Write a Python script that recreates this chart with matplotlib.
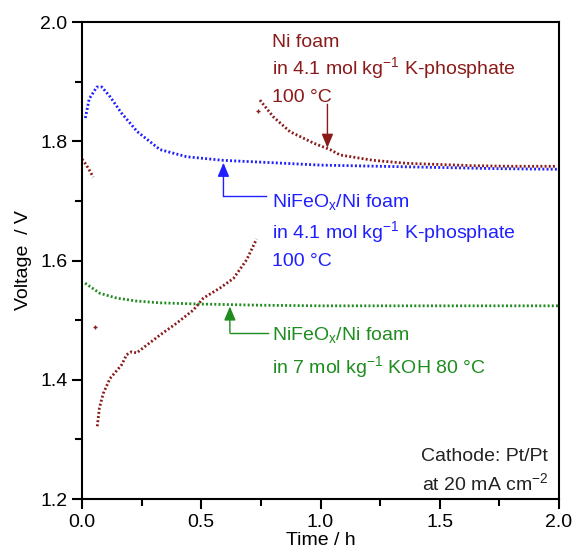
import matplotlib
matplotlib.use("Agg")
import matplotlib.pyplot as plt
from matplotlib.ticker import MultipleLocator

plt.rcParams['font.family'] = ['Liberation Sans', 'DejaVu Sans']
plt.rcParams['mathtext.fontset'] = 'custom'
plt.rcParams['mathtext.rm'] = 'Liberation Sans'
plt.rcParams['mathtext.it'] = 'Liberation Sans:italic'
plt.rcParams['font.size'] = 14

RED = '#8b1a1a'
BLUE = '#1f1fff'
GREEN = '#1f8c1f'

# NiFeOx/Ni foam in 4.1 mol/kg K-phosphate, 100 C
t_blue = [0.014, 0.03, 0.062, 0.083, 0.117, 0.166, 0.232, 0.327, 0.439, 0.591,
          0.8, 0.998, 1.25, 1.5, 1.75, 2.0]
v_blue = [1.839, 1.871, 1.891, 1.891, 1.875, 1.847, 1.816, 1.786, 1.774, 1.768,
          1.764, 1.760, 1.758, 1.756, 1.754, 1.753]

# Ni foam in 4.1 mol/kg K-phosphate, 100 C (three pieces)
t_red_a = [0.0, 0.015, 0.03, 0.047]
v_red_a = [1.770, 1.762, 1.752, 1.740]
t_red_b = [0.064, 0.073, 0.089, 0.117, 0.166, 0.187, 0.208, 0.229, 0.271, 0.327,
           0.397, 0.467, 0.509, 0.579, 0.635, 0.690, 0.732]
v_red_b = [1.322, 1.353, 1.377, 1.402, 1.425, 1.442, 1.447, 1.445, 1.458, 1.475,
           1.495, 1.517, 1.537, 1.554, 1.570, 1.601, 1.636]
t_red_c = [0.746, 0.802, 0.872, 0.914, 0.970, 1.040, 1.082, 1.221, 1.361, 1.5,
           1.641, 1.8, 1.99]
v_red_c = [1.869, 1.841, 1.816, 1.808, 1.797, 1.786, 1.777, 1.768, 1.763, 1.761,
           1.759, 1.758, 1.758]
t_red_pts = [0.055, 0.738]
v_red_pts = [1.489, 1.850]

# NiFeOx/Ni foam in 7 mol/kg KOH, 80 C
t_green = [0.013, 0.075, 0.145, 0.229, 0.327, 0.495, 0.75, 0.998, 1.5, 2.0]
v_green = [1.562, 1.545, 1.537, 1.532, 1.529, 1.527, 1.525, 1.524, 1.524, 1.524]

fig = plt.figure(figsize=(5.76, 5.57), dpi=100)
ax = fig.add_axes([0.1424, 0.1041, 0.8281, 0.8564])

kw = dict(linestyle=(0, (0.7, 0.8)), linewidth=2.0)
ax.plot(t_blue, v_blue, color=BLUE, **kw)
ax.plot(t_green, v_green, color=GREEN, **kw)
ax.plot(t_red_a, v_red_a, color=RED, **kw)
ax.plot(t_red_b, v_red_b, color=RED, **kw)
ax.plot(t_red_c, v_red_c, color=RED, **kw)
ax.plot(t_red_pts, v_red_pts, color=RED, linestyle='none', marker='+',
        markersize=3, markeredgewidth=1)

ax.set_xlim(0, 2)
ax.set_ylim(1.2, 2.0)
ax.xaxis.set_major_locator(MultipleLocator(0.5))
ax.xaxis.set_minor_locator(MultipleLocator(0.25))
ax.yaxis.set_major_locator(MultipleLocator(0.2))
ax.yaxis.set_minor_locator(MultipleLocator(0.1))
ax.tick_params(which='major', direction='out', length=7, width=1.5, labelsize=14)
ax.tick_params(which='minor', direction='out', length=5, width=1.5)
for s in ax.spines.values():
    s.set_linewidth(1.5)
ax.set_xlabel('Time / h', labelpad=1)
ax.set_ylabel('Voltage  / V', labelpad=6)

sup1 = r'$\mathregular{^{-1}}$'
# red annotation
ax.text(0.798, 1.958, 'Ni foam', color=RED, va='baseline')
ax.text(0.798, 1.912, 'in 4.1 mol kg' + sup1 + ' K-phosphate', color=RED, va='baseline')
ax.text(0.798, 1.866, '100 °C', color=RED, va='baseline')
ax.annotate('', xy=(1.029, 1.789), xytext=(1.029, 1.862),
            arrowprops=dict(arrowstyle='-|>,head_length=0.6,head_width=0.25',
                            color=RED, lw=1, shrinkA=0, shrinkB=0))

# blue annotation
ax.text(0.798, 1.690, r'NiFeO$\mathregular{_x}$/Ni foam', color=BLUE, va='baseline')
ax.text(0.798, 1.637, 'in 4.1 mol kg' + sup1 + ' K-phosphate', color=BLUE, va='baseline')
ax.text(0.798, 1.590, '100 °C', color=BLUE, va='baseline')
ax.plot([0.593, 0.772], [1.708, 1.708], color=BLUE, lw=1)
ax.annotate('', xy=(0.593, 1.764), xytext=(0.593, 1.708),
            arrowprops=dict(arrowstyle='-|>,head_length=0.6,head_width=0.25',
                            color=BLUE, lw=1, shrinkA=0, shrinkB=0))

# green annotation
ax.text(0.798, 1.467, r'NiFeO$\mathregular{_x}$/Ni foam', color=GREEN, va='baseline')
ax.text(0.798, 1.411, 'in 7 mol kg' + sup1 + ' KOH 80 °C', color=GREEN, va='baseline')
ax.plot([0.620, 0.781], [1.479, 1.479], color=GREEN, lw=1)
ax.annotate('', xy=(0.620, 1.523), xytext=(0.620, 1.479),
            arrowprops=dict(arrowstyle='-|>,head_length=0.6,head_width=0.25',
                            color=GREEN, lw=1, shrinkA=0, shrinkB=0))

ax.text(1.954, 1.263, 'Cathode: Pt/Pt', ha='right', va='baseline', color='#222222')
ax.text(1.954, 1.215, r'at 20 mA cm$\mathregular{^{-2}}$', ha='right', va='baseline',
        color='#222222')

fig.savefig('out.png', dpi=100)
